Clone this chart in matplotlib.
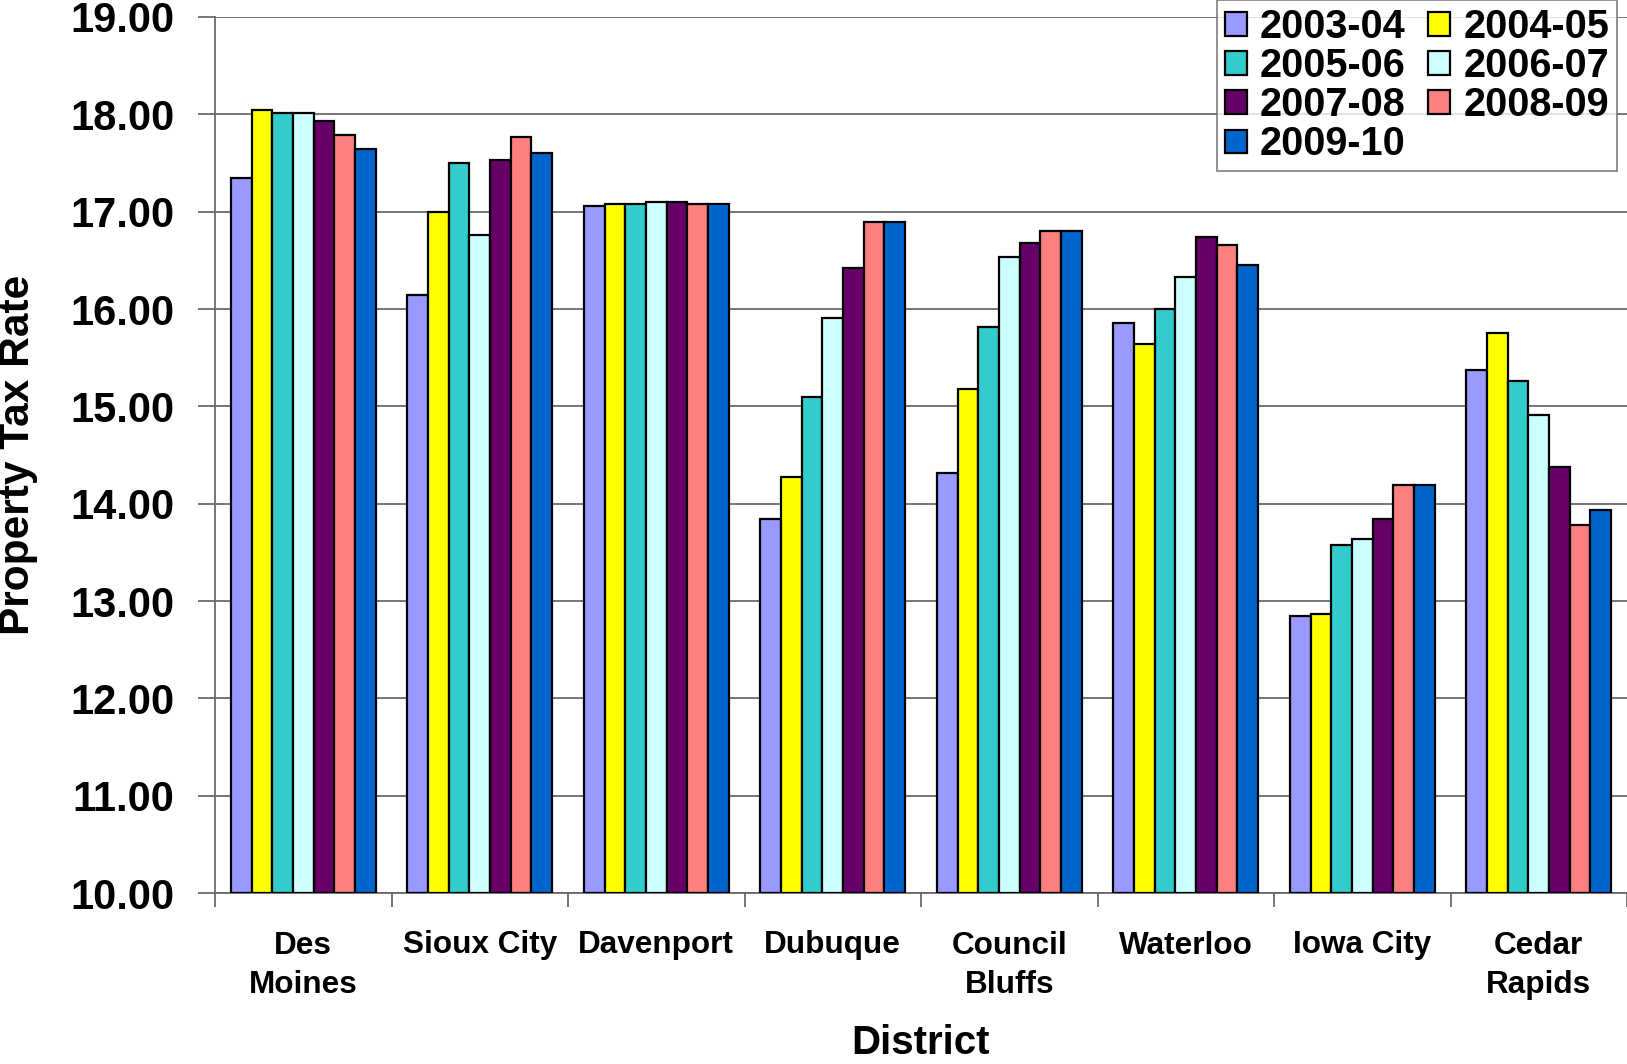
import matplotlib
matplotlib.use("Agg")
import matplotlib.pyplot as plt
import numpy as np
from matplotlib.patches import Patch

plt.rcParams['font.family'] = ['Liberation Sans', 'DejaVu Sans']
plt.rcParams['font.weight'] = 'bold'

districts = ["Des\nMoines", "Sioux City", "Davenport", "Dubuque", "Council\nBluffs",
             "Waterloo", "Iowa City", "Cedar\nRapids"]
years = ["2003-04", "2004-05", "2005-06", "2006-07", "2007-08", "2008-09", "2009-10"]
colors = ["#9999FF", "#FFFF00", "#33CCCC", "#CCFFFF", "#660066", "#FF8080", "#0066CC"]

rate_2003_04 = [17.35, 16.14, 17.06, 13.84, 14.31, 15.86, 12.85, 15.37]
rate_2004_05 = [18.04, 17.00, 17.08, 14.27, 15.18, 15.64, 12.87, 15.75]
rate_2005_06 = [18.01, 17.50, 17.08, 15.10, 15.82, 16.00, 13.58, 15.26]
rate_2006_07 = [18.01, 16.76, 17.10, 15.91, 16.53, 16.33, 13.64, 14.91]
rate_2007_08 = [17.93, 17.53, 17.10, 16.42, 16.68, 16.74, 13.84, 14.38]
rate_2008_09 = [17.79, 17.77, 17.08, 16.89, 16.80, 16.66, 14.19, 13.78]
rate_2009_10 = [17.64, 17.60, 17.08, 16.89, 16.80, 16.45, 14.19, 13.93]
series = [rate_2003_04, rate_2004_05, rate_2005_06, rate_2006_07,
          rate_2007_08, rate_2008_09, rate_2009_10]

fig = plt.figure(figsize=(16.27, 10.64), dpi=100)
ax = fig.add_axes([215/1627, 1-893/1064, 1-215/1627, (893-17)/1064])

n = len(districts)
x = np.arange(n)
group_w = 0.82
bw = group_w / len(series)
for i, (vals, c) in enumerate(zip(series, colors)):
    offs = -group_w/2 + bw*(i+0.5)
    ax.bar(x + offs, np.array(vals) - 10, bottom=10, width=bw, color=c,
           edgecolor='black', linewidth=1.6, zorder=3)

ax.set_xlim(-0.5, n-0.5)
ax.set_ylim(10, 19)
ax.set_yticks(np.arange(10, 19.01, 1))
ax.set_yticklabels([f"{v:.2f}" for v in np.arange(10, 19.01, 1)])
ax.yaxis.grid(True, color='#6a6a6a', linewidth=1.3, zorder=0)

ax.set_xticks(np.arange(-0.5, n, 1))
ax.set_xticklabels([''] * (n+1))
ax.set_xticks(x, minor=True)
ax.set_xticklabels(districts, minor=True, fontsize=22.7, fontweight='bold', linespacing=1.4)
ax.tick_params(axis='x', which='minor', length=0, pad=27)
ax.tick_params(axis='x', which='major', length=10, width=1.3, color='#6a6a6a', direction='out')
ax.tick_params(axis='y', length=12, width=1.3, color='#6a6a6a', direction='out',
               labelsize=30, pad=17)
for lab in ax.get_yticklabels():
    lab.set_fontweight('bold')

for s in ['top', 'right']:
    ax.spines[s].set_visible(False)
for s in ['left', 'bottom']:
    ax.spines[s].set_color('#6a6a6a')
    ax.spines[s].set_linewidth(1.3)

ax.set_ylabel("Property Tax Rate", fontsize=30.5, fontweight='bold')
ax.yaxis.set_label_coords((38-215)/1412, 0.5)
fig.text(921/1627, 1-1043/1064, "District", fontsize=29, fontweight='bold',
         ha='center', va='center')

order = [0, 2, 4, 6, 1, 3, 5]
handles = [Patch(facecolor=colors[i], edgecolor='black', linewidth=1.6) for i in order]
labels = [years[i] for i in order]
leg = fig.legend(handles, labels, loc='upper right', bbox_to_anchor=(1617/1627, 1.0),
                 ncol=2, fontsize=28.5, frameon=True, fancybox=False, edgecolor='#6a6a6a',
                 handlelength=0.55, handleheight=0.55, handletextpad=0.33,
                 columnspacing=0.58, labelspacing=0.03, borderpad=0.2, borderaxespad=0)
leg.get_frame().set_linewidth(1.3)
for t in leg.get_texts():
    t.set_fontweight('bold')

fig.savefig("out.png", dpi=100)
